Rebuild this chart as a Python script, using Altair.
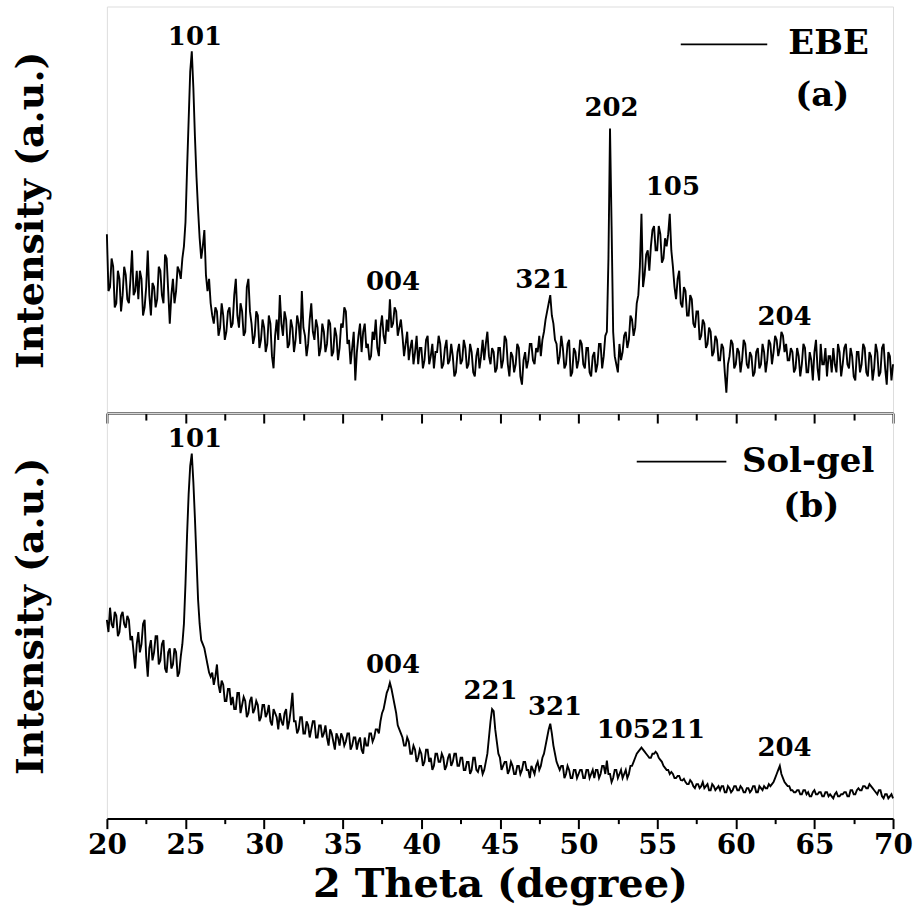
import altair as alt
import numpy as np
import pandas as pd

# Scan grid: 2-theta from 20 to 70 degrees in 0.1 degree steps
two_theta = np.round(np.arange(20.0, 70.0001, 0.1), 1)

# Relative intensity (a.u.), panel (a): EBE film; one row per degree
ebe = [
    44, 30, 31, 38, 36, 26, 27, 35, 33, 25,
    29, 36, 34, 28, 27, 33, 40, 29, 30, 35,
    28, 35, 33, 24, 26, 31, 40, 29, 24, 32,
    31, 26, 28, 36, 35, 29, 27, 39, 38, 30,
    22, 29, 33, 27, 30, 36, 35, 33, 38, 41,
    47, 60, 72, 84, 89, 80, 68, 58, 50, 43,
    38, 41, 45, 34, 30, 33, 27, 24, 22, 26,
    25, 19, 21, 27, 24, 18, 20, 25, 26, 21,
    22, 29, 33, 24, 21, 27, 25, 19, 20, 31,
    33, 25, 22, 17, 19, 25, 24, 16, 18, 23,
    21, 15, 17, 24, 22, 14, 11, 19, 23, 18,
    29, 22, 19, 25, 23, 16, 17, 23, 21, 15,
    18, 24, 22, 17, 30, 21, 19, 14, 17, 23,
    27, 20, 18, 23, 21, 14, 16, 22, 20, 15,
    17, 23, 22, 14, 15, 21, 19, 13, 16, 22,
    21, 26, 25, 17, 18, 12, 16, 20, 8, 15,
    19, 22, 15, 20, 22, 16, 17, 13, 14, 20,
    18, 23, 16, 14, 21, 24, 19, 17, 23, 20,
    28, 21, 22, 26, 25, 19, 21, 23, 19, 14,
    17, 20, 13, 16, 18, 12, 15, 19, 12, 16,
    16, 11, 13, 18, 19, 12, 14, 17, 11, 15,
    15, 19, 17, 11, 12, 16, 18, 12, 13, 17,
    14, 9, 10, 15, 17, 12, 13, 18, 16, 11,
    12, 17, 15, 10, 9, 14, 16, 11, 14, 18,
    13, 17, 20, 14, 12, 16, 15, 10, 11, 16,
    16, 11, 13, 19, 18, 12, 9, 15, 14, 10,
    12, 17, 16, 9, 7, 13, 15, 11, 13, 17,
    17, 13, 12, 16, 15, 19, 14, 18, 20, 23,
    25, 27, 29, 24, 22, 18, 17, 12, 14, 19,
    16, 11, 12, 17, 18, 9, 10, 16, 15, 11,
    13, 18, 17, 12, 11, 16, 16, 10, 9, 14,
    15, 10, 12, 17, 17, 11, 14, 19, 20, 38,
    70, 46, 20, 14, 12, 10, 17, 13, 15, 19,
    20, 16, 18, 24, 23, 19, 21, 27, 29, 36,
    49, 31, 34, 39, 40, 35, 41, 45, 46, 40,
    40, 46, 44, 37, 38, 43, 41, 44, 49, 40,
    36, 31, 28, 33, 35, 27, 26, 31, 30, 24,
    24, 29, 28, 22, 21, 25, 25, 18, 19, 23,
    22, 16, 17, 21, 20, 14, 15, 19, 18, 13,
    13, 17, 16, 10, 5, 12, 14, 18, 17, 11,
    12, 16, 15, 10, 13, 18, 17, 12, 11, 15,
    14, 9, 10, 15, 16, 11, 12, 17, 15, 10,
    13, 18, 17, 12, 15, 19, 18, 14, 16, 20,
    19, 15, 17, 13, 13, 16, 15, 10, 11, 16,
    14, 9, 12, 17, 16, 10, 10, 15, 13, 8,
    15, 18, 11, 8, 17, 12, 12, 16, 9, 14,
    14, 10, 16, 12, 10, 17, 15, 9, 12, 16,
    17, 12, 11, 16, 14, 9, 8, 15, 15, 10,
    12, 17, 16, 10, 9, 15, 14, 8, 11, 17,
    15, 9, 10, 16, 17, 11, 7, 15, 14, 8,
    12,
]

# Relative intensity (a.u.), panel (b): sol-gel film; one row per degree
solgel = [
    49, 46, 52, 48, 47, 51, 50, 45, 46, 50,
    51, 48, 47, 50, 49, 44, 45, 41, 37, 43,
    46, 41, 43, 48, 49, 40, 35, 42, 44, 39,
    41, 45, 45, 38, 39, 43, 44, 37, 36, 41,
    42, 37, 38, 42, 41, 35, 36, 40, 43, 48,
    58, 70, 80, 87, 90, 83, 74, 64, 54, 48,
    44, 43, 42, 40, 38, 36, 35, 36, 33, 35,
    38, 33, 31, 34, 33, 29, 29, 32, 32, 28,
    30, 27, 27, 31, 31, 26, 28, 30, 29, 25,
    26, 29, 30, 26, 27, 29, 28, 24, 25, 28,
    28, 25, 26, 28, 24, 23, 27, 26, 25, 22,
    26, 24, 23, 26, 27, 22, 24, 27, 31, 24,
    24, 21, 22, 25, 25, 21, 21, 24, 23, 20,
    22, 24, 24, 20, 20, 23, 23, 20, 21, 23,
    20, 18, 22, 21, 19, 17, 21, 20, 18, 21,
    20, 18, 19, 21, 21, 17, 18, 20, 20, 17,
    19, 20, 17, 16, 20, 18, 18, 21, 21, 19,
    20, 22, 22, 21, 24, 26, 27, 29, 31, 32,
    33.5, 32, 30, 28, 26, 23, 22, 21, 20, 18,
    18, 20, 19, 16, 16, 18, 17, 14, 15, 17,
    16, 13, 14, 17, 17, 14, 15, 12, 13, 16,
    16, 14, 14, 16, 15, 12, 13, 15, 16, 13,
    14, 16, 16, 13, 13, 15, 15, 12, 12, 14,
    14, 11, 12, 15, 15, 12, 11.5, 13, 13, 11,
    12, 14, 16, 20, 24, 27, 26.5, 22, 19, 16,
    15, 12, 13, 14, 14, 11, 12, 14, 13, 11,
    11, 13, 13, 11, 12, 14, 14, 12, 12, 10,
    13, 12, 11, 13, 14, 12, 13, 15, 16, 18,
    20, 22, 23.4, 21, 18, 16, 14, 13, 12, 13,
    13, 10, 11, 13, 12, 10, 10, 12, 12, 10,
    11, 12, 12, 10, 10, 12, 12, 10, 11, 12,
    10, 12, 12, 10, 11, 13, 13, 11, 14.3, 11,
    11, 9, 10, 12, 12, 10, 11, 12, 10, 11,
    12, 10, 11, 13, 13, 14, 15, 16, 16.5, 17,
    17.5, 17, 16.5, 16, 15.5, 15, 15, 16, 16, 16.5,
    16, 15, 14.5, 14, 13, 12.5, 12, 12, 11, 11.5,
    11, 10, 10, 10.5, 10.5, 9.5, 9.4, 9.8, 9, 8.5,
    8.5, 9.5, 9, 8, 7.5, 8.5, 8.5, 7.5, 8, 9,
    7.5, 8, 8.5, 7, 7, 8.5, 8, 7, 7.5, 8,
    7, 8, 8, 6.5, 6.5, 8, 7.5, 6.5, 7, 8,
    8, 7, 7, 8, 7.5, 6.5, 6.5, 7.5, 7.5, 6.5,
    7, 8, 8, 6.5, 6.5, 8, 7.5, 7, 8, 7.5,
    7.5, 8.5, 8, 8.5, 9, 10, 11, 12, 13, 11,
    10, 9, 8.5, 8, 8, 7, 7, 6.5, 6.5, 7,
    7, 6, 6, 7, 7, 6, 6.5, 5.5, 5.5, 6.5,
    7, 6, 6, 6.5, 6.5, 5.5, 5.5, 6.5, 6.5, 5.5,
    6, 5.5, 5, 6, 6.5, 5.5, 5.5, 6, 6, 6.5,
    6.5, 5.5, 5.5, 7, 7, 6, 6, 7, 7.5, 7,
    7, 8, 8, 7.5, 7.5, 8.5, 8, 7.5, 7, 6.5,
    6, 7, 7, 5.5, 5, 6, 6, 5, 5.5, 6,
    5,
]

# Miller-index annotations (label, 2-theta, intensity)
ebe_peaks = ["101", "004", "321", "202", "105", "204"]
ebe_peak_x = [25.6, 38.2, 47.7, 52.1, 56.0, 63.1]
ebe_peak_y = [92.4, 32.2, 32.7, 75.0, 55.5, 23.6]

sol_peaks = ["101", "004", "221", "321", "105211", "204"]
sol_peak_x = [25.6, 38.2, 44.4, 48.5, 54.6, 63.1]
sol_peak_y = [93.6, 37.9, 31.5, 27.6, 21.9, 17.5]

# In-panel key: series name, panel tag and a short line sample
series_names = ["EBE", "Sol-gel"]
panel_tags = ["(a)", "(b)"]
key_line_x = [(56.5, 62.0), (53.7, 59.4)]
key_line_y = [90.7, 88.0]
key_name_xy = [(65.9, 90.7), (64.6, 88.0)]
key_tag_xy = [(65.5, 77.9), (64.8, 76.8)]

tick_values = [20 + 2.5 * i for i in range(21)]

FONT = "DejaVu Serif"


def panel(values, peaks, peak_x, peak_y, idx, height, bottom):
    major = {"condition": {"test": "datum.value % 5 === 0", "value": 10},
             "value": 5 if bottom else 7}
    x_axis = alt.Axis(
        values=tick_values,
        labels=bottom,
        labelExpr="datum.value % 5 === 0 ? datum.label : ''",
        labelFlush=False,
        labelOverlap=False,
        labelFont=FONT,
        labelFontWeight="bold",
        labelFontSize=28,
        labelColor="black",
        labelPadding=3,
        tickSize=major,
        tickWidth=2,
        tickColor="black",
        domainColor="black",
        domainWidth=2,
        grid=False,
        title="2 Theta (degree)" if bottom else None,
        titleFont=FONT,
        titleFontWeight="bold",
        titleFontSize=40,
        titleColor="black",
        titlePadding=5,
    )
    y_axis = alt.Axis(
        labels=False,
        ticks=False,
        domain=False,
        grid=False,
        title="Intensity (a.u.)",
        titleFont=FONT,
        titleFontWeight="bold",
        titleFontSize=38,
        titleColor="black",
        titlePadding=56,
    )
    x = alt.X("two_theta:Q", scale=alt.Scale(domain=[20, 70], nice=False, zero=False), axis=x_axis)
    x2 = alt.X2("two_theta_end:Q")
    y = alt.Y("intensity:Q", scale=alt.Scale(domain=[0, 100], nice=False), axis=y_axis)

    scan = pd.DataFrame({"two_theta": two_theta, "intensity": values})
    line = alt.Chart(scan).mark_line(color="black", strokeWidth=1.9).encode(x=x, y=y)

    labels_df = pd.DataFrame({"two_theta": peak_x, "intensity": peak_y, "hkl": peaks})
    labels = alt.Chart(labels_df).mark_text(
        font=FONT, fontWeight="bold", fontSize=26, color="black", baseline="middle", align="center"
    ).encode(x=x, y=y, text="hkl:N")

    key_df = pd.DataFrame({
        "two_theta": [key_line_x[idx][0]],
        "two_theta_end": [key_line_x[idx][1]],
        "intensity": [key_line_y[idx]],
    })
    key_line = alt.Chart(key_df).mark_rule(color="black", strokeWidth=1.8).encode(x=x, x2=x2, y=y)

    key_text_df = pd.DataFrame({
        "two_theta": [key_name_xy[idx][0], key_tag_xy[idx][0]],
        "intensity": [key_name_xy[idx][1], key_tag_xy[idx][1]],
        "txt": [series_names[idx], panel_tags[idx]],
    })
    key_text = alt.Chart(key_text_df).mark_text(
        font=FONT, fontWeight="bold", fontSize=34, color="black", baseline="middle", align="center"
    ).encode(x=x, y=y, text="txt:N")

    return alt.layer(line, labels, key_line, key_text).properties(width=787, height=height)


top = panel(ebe, ebe_peaks, ebe_peak_x, ebe_peak_y, 0, 407, False)
bottom = panel(solgel, sol_peaks, sol_peak_x, sol_peak_y, 1, 406, True)

chart = (
    alt.vconcat(top, bottom, spacing=0)
    .properties(bounds="flush", padding={"left": 12, "top": 5, "right": 5, "bottom": 5})
    .configure_view(stroke="black", strokeWidth=2)
    .configure(background="white")
)

chart.save("out.html", embed_options={"renderer": "svg", "actions": False})
